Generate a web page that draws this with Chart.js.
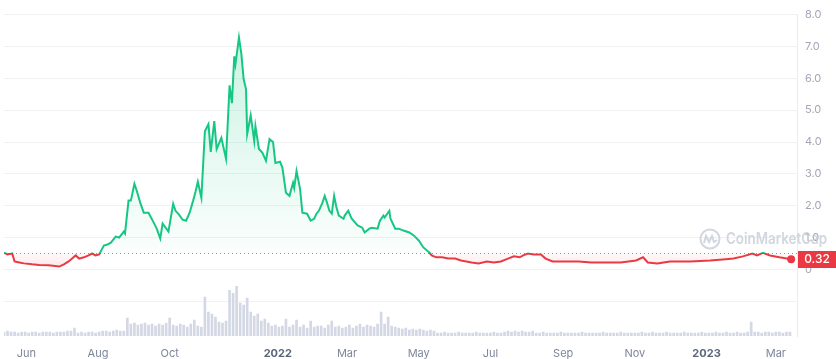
<!DOCTYPE html>
<html><head><meta charset="utf-8">
<script src="https://cdn.jsdelivr.net/npm/chart.js@4.4.1/dist/chart.umd.min.js"></script>
<style>html,body{margin:0;padding:0;background:#fff;}#wrap{width:836px;height:359px;position:relative;}</style>
</head><body><div id="wrap"><canvas id="c"></canvas></div>
<script>
// ---- data ----
const startDate = '2021-05-13';
const endDate = '2023-03-19';
const priceDates = ['2021-05-13','2021-05-16','2021-05-20','2021-05-22','2021-05-26','2021-05-30','2021-06-06','2021-06-12','2021-06-20','2021-06-29','2021-07-03','2021-07-07','2021-07-10','2021-07-13','2021-07-16','2021-07-20','2021-07-24','2021-07-27','2021-07-30','2021-08-02','2021-08-06','2021-08-09','2021-08-12','2021-08-16','2021-08-19','2021-08-23','2021-08-24','2021-08-27','2021-08-29','2021-09-01','2021-09-03','2021-09-06','2021-09-09','2021-09-13','2021-09-17','2021-09-20','2021-09-23','2021-09-25','2021-09-30','2021-10-04','2021-10-06','2021-10-09','2021-10-12','2021-10-15','2021-10-18','2021-10-21','2021-10-23','2021-10-25','2021-10-28','2021-10-31','2021-11-03','2021-11-05','2021-11-08','2021-11-10','2021-11-14','2021-11-18','2021-11-21','2021-11-23','2021-11-25','2021-11-26','2021-11-29','2021-12-01','2021-12-03','2021-12-05','2021-12-06','2021-12-09','2021-12-12','2021-12-13','2021-12-16','2021-12-19','2021-12-22','2021-12-25','2021-12-28','2021-12-30','2022-01-03','2022-01-05','2022-01-08','2022-01-11','2022-01-14','2022-01-15','2022-01-17','2022-01-20','2022-01-22','2022-01-26','2022-01-29','2022-02-01','2022-02-03','2022-02-05','2022-02-08','2022-02-10','2022-02-12','2022-02-14','2022-02-16','2022-02-18','2022-02-20','2022-02-22','2022-02-26','2022-02-27','2022-03-02','2022-03-05','2022-03-10','2022-03-14','2022-03-16','2022-03-20','2022-03-22','2022-03-27','2022-03-29','2022-04-01','2022-04-02','2022-04-06','2022-04-07','2022-04-11','2022-04-14','2022-04-18','2022-04-23','2022-04-27','2022-05-01','2022-05-05','2022-05-10','2022-05-12','2022-05-16','2022-05-21','2022-05-26','2022-06-01','2022-06-06','2022-06-15','2022-06-21','2022-06-28','2022-07-04','2022-07-10','2022-07-16','2022-07-21','2022-07-26','2022-07-29','2022-08-02','2022-08-07','2022-08-13','2022-08-17','2022-08-23','2022-09-02','2022-09-14','2022-09-25','2022-10-06','2022-10-20','2022-11-02','2022-11-08','2022-11-12','2022-11-20','2022-12-01','2022-12-18','2023-01-04','2023-01-15','2023-01-24','2023-02-01','2023-02-09','2023-02-13','2023-02-18','2023-02-24','2023-03-04','2023-03-14'];
const prices = [0.53,0.47,0.50,0.25,0.22,0.19,0.16,0.14,0.13,0.09,0.16,0.25,0.34,0.44,0.34,0.38,0.44,0.50,0.44,0.47,0.75,0.78,0.84,1.03,1.00,1.19,1.13,2.16,2.16,2.69,2.47,2.09,1.78,1.78,1.50,1.28,0.97,1.44,1.19,2.06,1.84,1.72,1.56,1.53,1.78,2.16,2.44,2.75,2.25,4.34,4.56,3.69,4.66,3.78,4.13,3.47,5.78,5.22,6.69,6.44,7.28,6.78,5.97,5.66,4.25,4.84,4.03,4.50,3.78,3.66,3.41,4.09,4.00,3.34,3.38,3.19,2.41,2.31,2.72,2.56,3.09,2.53,1.78,1.75,1.53,1.59,1.75,1.84,2.09,2.31,2.09,1.84,1.75,2.31,1.94,1.69,1.59,1.69,1.84,1.59,1.38,1.31,1.16,1.28,1.31,1.28,1.53,1.69,1.63,1.84,1.59,1.28,1.28,1.22,1.16,1.06,0.91,0.69,0.53,0.44,0.38,0.38,0.34,0.34,0.28,0.22,0.19,0.25,0.22,0.25,0.34,0.41,0.38,0.44,0.50,0.47,0.47,0.34,0.25,0.25,0.25,0.22,0.22,0.22,0.28,0.38,0.22,0.19,0.25,0.25,0.28,0.31,0.34,0.41,0.50,0.44,0.52,0.44,0.38,0.32];
const volumeStart = '2021-05-13';
const volumeStepDays = 3;
const volumes = [4,5,4,4,3,4,4,3,4,4,3,4,4,4,3,4,4,4,5,
  5,8,
  3,4,3,4,4,3,4,
  5,5,4,5,6,5,5,
  18,
  12,13,11,12,13,11,12,10,12,11,13,
  18,11,
  10,12,11,9,12,16,
  10,9,
  39,24,22,19,14,13,
  15,46,43,50,33,31,38,24,20,22,15,17,13,
  10,11,9,10,17,9,11,
  16,9,11,8,15,9,10,
  10,8,11,15,9,10,8,
  9,11,8,10,12,9,11,10,9,12,
  24,12,19,10,
  9,8,7,8,6,7,6,7,
  6,5,6,5,
  3,3,4,3,3,3,4,3,3,3,3,4,3,3,3,3,4,3,3,
  4,5,4,5,4,5,4,4,5,
  3,3,4,3,3,3,3,4,3,3,3,3,3,4,3,3,3,3,3,4,3,3,3,3,4,3,3,3,3,3,4,3,3,4,3,3,3,4,3,3,3,3,4,3,3,3,3,4,3,3,3,4,3,3,4,3,3,4,3,3,4,
  14,
  4,4,3,4,4,3,4,4,3,4,4];
const xTickDates = ['2021-06-01','2021-08-01','2021-10-01','2022-01-01','2022-03-01','2022-05-01','2022-07-01','2022-09-01','2022-11-01','2023-01-01','2023-03-01'];
const xTickLabels = ['Jun','Aug','Oct','2022','Mar','May','Jul','Sep','Nov','2023','Mar'];
const yTickValues = [-1,0,1,2,3,4,5,6,7,8];
const yTickLabels = ['','0','1.0','2.0','3.0','4.0','5.0','6.0','7.0','8.0'];
const lastLabel = '0.32';

// ---- helpers ----
const DAY = 86400000;
const t0 = Date.parse(startDate + 'T00:00:00Z');
const dayOf = s => Math.round((Date.parse(s + 'T00:00:00Z') - t0) / DAY);
const BASE = prices[0];
const GREEN = '#16c784', RED = '#ea3943';

const priceData = priceDates.map((d, i) => ({x: dayOf(d), y: prices[i]}));
const vStart = dayOf(volumeStart);
const volData = volumes.map((v, i) => ({x: vStart + i * volumeStepDays, y: v}));
const xTickDays = xTickDates.map(dayOf);
const yearDays = new Set(xTickDates.filter(d => d.endsWith('-01-01')).map(dayOf));

const overlay = {
  id: 'overlay',
  beforeDatasetsDraw(chart) {
    const {ctx, chartArea: a, scales: {y}} = chart;
    const yb = Math.round(y.getPixelForValue(BASE)) + 0.5;
    ctx.save();
    ctx.strokeStyle = '#8f96a3';
    ctx.lineWidth = 1;
    ctx.setLineDash([1, 3]);
    ctx.beginPath(); ctx.moveTo(a.left, yb); ctx.lineTo(a.right, yb); ctx.stroke();
    ctx.restore();
  },
  afterDraw(chart) {
    const {ctx, chartArea: a, scales: {y}} = chart;
    ctx.save();
    // watermark
    ctx.globalAlpha = 0.75;
    ctx.strokeStyle = '#c3c8d3';
    ctx.fillStyle = '#c3c8d3';
    ctx.lineWidth = 2;
    const cx = 710, cy = 239;
    ctx.beginPath(); ctx.arc(cx, cy, 9.5, 0, Math.PI * 2); ctx.stroke();
    ctx.beginPath();
    ctx.moveTo(cx - 6, cy + 4); ctx.lineTo(cx - 4, cy - 3); ctx.lineTo(cx - 1, cy + 3);
    ctx.lineTo(cx + 2, cy - 3); ctx.lineTo(cx + 4, cy + 3); ctx.lineTo(cx + 7, cy + 1);
    ctx.stroke();
    ctx.font = '600 16px Inter';
    const txt = 'CoinMarketCap';
    const w = ctx.measureText(txt).width;
    ctx.textBaseline = 'middle';
    ctx.translate(726, cy);
    ctx.scale(101 / w, 1);
    ctx.fillText(txt, 0, 0);
    ctx.restore();
    // last price label
    const last = priceData[priceData.length - 1];
    const py = y.getPixelForValue(last.y);
    ctx.save();
    ctx.fillStyle = RED;
    ctx.fillRect(a.right + 1, Math.round(py) - 8, 38, 17);
    ctx.fillStyle = '#fff';
    ctx.font = '500 12px Inter';
    ctx.textAlign = 'center';
    ctx.textBaseline = 'middle';
    ctx.fillText(lastLabel, a.right + 20, Math.round(py) + 0.5);
    ctx.restore();
  }
};

function lineGrad(c) {
  const ch = c.chart, a = ch.chartArea;
  if (!a) return GREEN;
  const yb = ch.scales.y.getPixelForValue(BASE);
  const g = ch.ctx.createLinearGradient(0, a.top, 0, a.bottom);
  const f = Math.min(1, Math.max(0, (yb - a.top) / (a.bottom - a.top)));
  g.addColorStop(0, GREEN); g.addColorStop(f, GREEN);
  g.addColorStop(f, RED); g.addColorStop(1, RED);
  return g;
}
function fillGrad(c) {
  const ch = c.chart, a = ch.chartArea;
  if (!a) return 'rgba(22,199,132,0.1)';
  const y = ch.scales.y;
  const top = y.getPixelForValue(7.3), yb = y.getPixelForValue(BASE), bot = y.getPixelForValue(0);
  const g = ch.ctx.createLinearGradient(0, top, 0, bot);
  const f = (yb - top) / (bot - top);
  g.addColorStop(0, 'rgba(22,199,132,0.22)');
  g.addColorStop(f, 'rgba(22,199,132,0.02)');
  g.addColorStop(f, 'rgba(234,57,67,0.03)');
  g.addColorStop(1, 'rgba(234,57,67,0.12)');
  return g;
}

new Chart(document.getElementById('c'), {
  type: 'line',
  data: {
    datasets: [
      {
        type: 'line', label: 'Price', data: priceData, yAxisID: 'y', order: 0,
        borderColor: lineGrad, backgroundColor: fillGrad, borderWidth: 2,
        fill: {target: {value: BASE}}, tension: 0,
        pointRadius: c => c.dataIndex === priceData.length - 1 ? 4 : 0,
        pointBackgroundColor: RED, pointBorderColor: RED, pointBorderWidth: 0
      },
      {
        type: 'bar', label: 'Volume', data: volData, yAxisID: 'yv', order: 1,
        backgroundColor: '#d3d8e4', barThickness: 2
      }
    ]
  },
  options: {
    responsive: true, maintainAspectRatio: false, animation: false,
    layout: {padding: {top: 13, left: 0, right: 0, bottom: 0}},
    plugins: {legend: {display: false}, tooltip: {enabled: false}},
    scales: {
      x: {
        type: 'linear', min: 0, max: dayOf(endDate), offset: false,
        grid: {display: false}, border: {display: false},
        afterBuildTicks: s => { s.ticks = xTickDays.map(v => ({value: v})); },
        afterFit: s => { s.height = 23; },
        ticks: {
          autoSkip: false, maxRotation: 0, padding: 3,
          callback: v => xTickLabels[xTickDays.indexOf(v)],
          font: c => ({family: 'Inter', size: 11, weight: yearDays.has(c.tick && c.tick.value) ? '700' : '400'}),
          color: c => yearDays.has(c.tick && c.tick.value) ? '#58667e' : '#7d8699'
        }
      },
      y: {
        position: 'right', min: -2.09, max: 8,
        afterBuildTicks: s => { s.ticks = yTickValues.map(v => ({value: v})); },
        afterFit: s => { s.width = 39; },
        grid: {color: '#eff2f5', drawTicks: false},
        border: {display: true, color: '#e8ebf0'},
        ticks: {
          padding: 8,
          callback: v => yTickLabels[yTickValues.indexOf(v)],
          font: {family: 'Inter', size: 11}, color: '#a1a7b5'
        }
      },
      yv: {display: false, min: 0, max: 323}
    }
  },
  plugins: [overlay]
});
</script></body></html>
